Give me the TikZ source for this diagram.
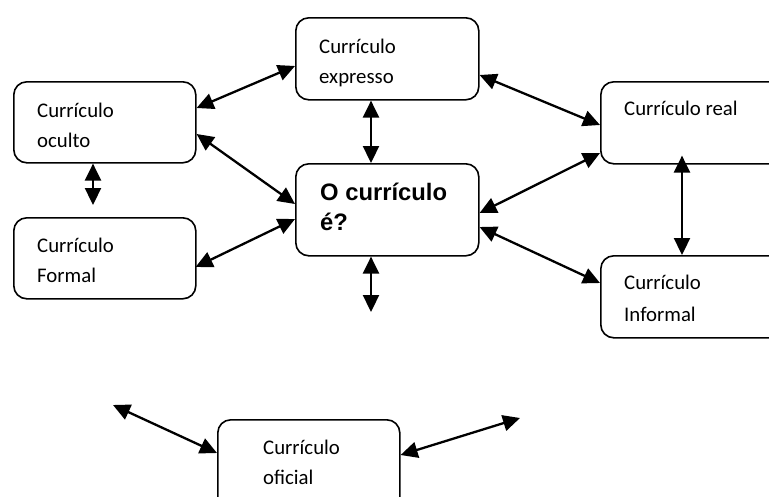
\documentclass[tikz,border=0pt]{standalone}
\usepackage{fontspec}
\setmainfont{Carlito}
\newfontfamily\arialfont{Liberation Sans}
\usetikzlibrary{arrows.meta,calc}
\begin{document}
\begin{tikzpicture}[x=1pt,y=-1pt,
  box/.style={draw, line width=1.6pt, rounded corners=13pt, anchor=north west, inner sep=0pt},
  lbl/.style={anchor=base west, inner sep=0pt, align=left, font=\fontsize{20.8pt}{30pt}\selectfont},
  boldlbl/.style={anchor=base west, inner sep=0pt, align=left, font=\arialfont\bfseries\fontsize{23.8pt}{30pt}\selectfont},
  arr/.style={{Triangle[length=17pt,width=16pt]}-{Triangle[length=17pt,width=16pt]}, line width=2.3pt}]
\useasboundingbox (0,0) rectangle (769,496);
\clip (0,0) rectangle (769,496);
\fill[white] (0,0) rectangle (769,496);
% boxes
\node[box, minimum width=182pt, minimum height=81pt] (ocu) at (13,81) {};
\node[box, minimum width=182pt, minimum height=81pt] (form) at (13,217) {};
\node[box, minimum width=183pt, minimum height=82pt] (exp) at (295,17) {};
\node[box, minimum width=183pt, minimum height=92pt] (cen) at (295,163) {};
\node[box, minimum width=200pt, minimum height=82pt] (real) at (600,81) {};
\node[box, minimum width=200pt, minimum height=82pt] (inf) at (600,255) {};
\node[box, minimum width=182pt, minimum height=100pt] (ofi) at (217,419) {};
% texts (base anchor = baseline of last line)
\node[lbl] (tocu) at ($(ocu.north west)+(24,66)$) {Currículo\\oculto};
\node[lbl] (tform) at ($(form.north west)+(24,65)$) {Currículo\\Formal};
\node[lbl] (texp) at ($(exp.north west)+(24,66)$) {Currículo\\expresso};
\node[boldlbl] (tcen) at ($(cen.north west)+(25,67)$) {O currículo\\é?};
\node[lbl] (treal) at ($(real.north west)+(24,34)$) {Currículo real};
\node[lbl, font=\fontsize{20.8pt}{32pt}\selectfont] (tinf) at ($(inf.north west)+(24,66)$) {Currículo\\Informal};
\node[lbl] (tofi) at ($(ofi.north west)+(46,65)$) {Currículo\\oficial};
% free ends
\coordinate (cdown) at (371,312);
\coordinate (ofl) at (113,405);
\coordinate (ofr) at (520,418);
% connectors
\draw[arr] ($(ocu.north east)+(0,27)$) -- ($(exp.north west)+(0,49)$);
\draw[arr] ($(ocu.north east)+(0,53)$) -- ($(cen.north west)+(0,41)$);
\draw[arr] ($(form.north east)+(-1,50)$) -- ($(cen.north west)+(0,56)$);
\draw[arr] ($(ocu.south west)+(80,0)$) -- ($(form.north west)+(80,-12)$);
\draw[arr] ($(exp.south west)+(76,0)$) -- ($(cen.north west)+(76,0)$);
\draw[arr] ($(cen.south west)+(76,0)$) -- (cdown);
\draw[arr] ($(exp.north east)+(0,58)$) -- ($(real.north west)+(0,44)$);
\draw[arr] ($(cen.north east)+(0,50)$) -- ($(real.north west)+(0,72)$);
\draw[arr] ($(cen.north east)+(0,64)$) -- ($(inf.north west)+(0,28)$);
\draw[arr] ($(real.south west)+(82,-9)$) -- ($(inf.north west)+(82,0)$);
\draw[arr] ($(ofi.north west)+(0,34)$) -- (ofl);
\draw[arr] ($(ofi.north east)+(0,36)$) -- (ofr);
\end{tikzpicture}
\end{document}
